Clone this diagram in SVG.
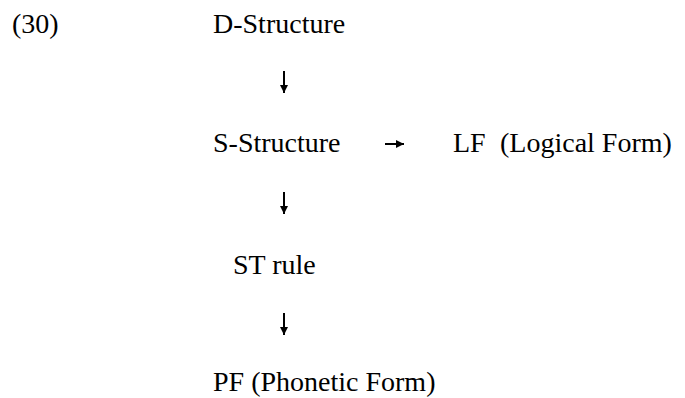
<svg xmlns="http://www.w3.org/2000/svg" width="685" height="398" viewBox="0 0 685 398">
  <defs>
    <style>
      text { font-family: "Liberation Serif", "Times New Roman", "DejaVu Serif", serif; font-size: 28px; fill: #000; }
      .c { stroke: #000; stroke-width: 2; fill: none; }
    </style>
    <marker id="head" viewBox="0 0 8 8" refX="8" refY="4" markerWidth="8" markerHeight="8" markerUnits="userSpaceOnUse" orient="auto">
      <path d="M0,0 L8,4 L0,8 Z" fill="#000"/>
    </marker>
  </defs>
  <rect width="685" height="398" fill="#fff"/>

  <text x="12" y="33">(30)</text>

  <g id="d-structure"><text x="213" y="33">D-Structure</text></g>
  <g id="s-structure"><text x="213" y="152">S-Structure</text></g>
  <g id="lf"><text x="453" y="152">LF<tspan x="500">(Logical Form)</tspan></text></g>
  <g id="st-rule"><text x="233" y="274">ST rule</text></g>
  <g id="pf"><text x="213" y="391">PF (Phonetic Form)</text></g>

  <g id="connectors">
    <line class="c" x1="284" y1="71" x2="284" y2="93" marker-end="url(#head)"/>
    <line class="c" x1="284" y1="192" x2="284" y2="214" marker-end="url(#head)"/>
    <line class="c" x1="385" y1="144" x2="404" y2="144" marker-end="url(#head)"/>
    <line class="c" x1="284" y1="313" x2="284" y2="335" marker-end="url(#head)"/>
  </g>
</svg>
